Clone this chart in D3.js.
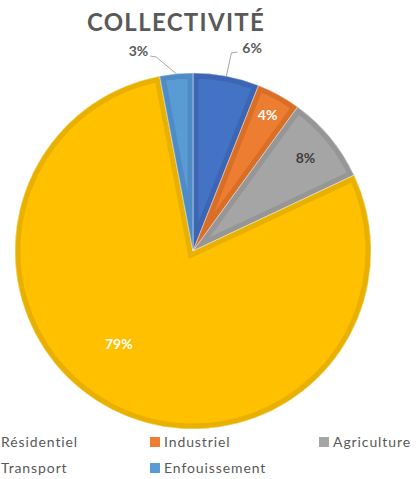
<!DOCTYPE html>
<html>
<head>
<meta charset="utf-8">
<script src="https://cdn.jsdelivr.net/npm/d3@7"></script>
<style>
  html, body { margin: 0; padding: 0; background: #fff; }
  svg { display: block; }
</style>
</head>
<body>
<svg id="chart" width="416" height="479"></svg>
<script>
// Émissions par secteur — collectivité
const categories = ["Résidentiel", "Industriel", "Agriculture", "Transport", "Enfouissement"];
const shares = [6, 4, 8, 79, 3];
const labels = ["6%", "4%", "8%", "79%", "3%"];
const title = "COLLECTIVITÉ";

const fills   = ["#4472C4", "#ED7D31", "#A5A5A5", "#FFC000", "#5B9BD5"];
const borders = ["#3C66B3", "#D96F27", "#969696", "#E8B000", "#4F8CC6"];

const W = 416, H = 479;
const cx = 193, cy = 251, R = 178;
const font = "Lato, 'Open Sans', sans-serif";
const ink = "#595959";

const svg = d3.select("#chart");

svg.append("text")
  .attr("x", 176).attr("y", 31)
  .attr("text-anchor", "middle")
  .attr("font-family", font).attr("font-weight", 700)
  .attr("font-size", 24).attr("letter-spacing", 1.3)
  .attr("fill", ink)
  .text(title);

const pie = d3.pie().sort(null).value(d => d.v);
const arcs = pie(categories.map((c, i) => ({ c, v: shares[i], i })));
const arc = d3.arc().innerRadius(0).outerRadius(R);

const g = svg.append("g").attr("transform", `translate(${cx},${cy})`);
const defs = svg.append("defs");

arcs.forEach((a, k) => {
  defs.append("clipPath").attr("id", "clip" + k)
    .append("path").attr("d", arc(a));
});

const slice = g.selectAll("g.slice").data(arcs).join("g").attr("class", "slice");
slice.append("path")
  .attr("d", arc)
  .attr("fill", d => fills[d.data.i]);
// darker inner border band
slice.append("path")
  .attr("d", arc)
  .attr("fill", "none")
  .attr("stroke", d => borders[d.data.i])
  .attr("stroke-width", 11)
  .attr("stroke-linejoin", "miter")
  .attr("clip-path", (d, k) => `url(#clip${k})`);
// thin separators between slices
slice.append("path")
  .attr("d", arc)
  .attr("fill", "none")
  .attr("stroke", "#fff")
  .attr("stroke-opacity", 0.55)
  .attr("stroke-width", 0.8);

// data labels
const inside = { 1: { r: 0.87, col: "#fff" }, 2: { r: 0.82, col: "#404040" }, 3: { r: 0.67, col: "#fff", shift: 0.2 } };
arcs.forEach((a, k) => {
  const i = a.data.i;
  const mid = (a.startAngle + a.endAngle) / 2;
  if (inside[i]) {
    const p = inside[i];
    const ang = mid + (p.shift || 0);
    g.append("text")
      .attr("x", Math.sin(ang) * R * p.r)
      .attr("y", -Math.cos(ang) * R * p.r)
      .attr("dy", "0.35em")
      .attr("text-anchor", "middle")
      .attr("font-family", font).attr("font-weight", 700)
      .attr("font-size", 14).attr("fill", p.col)
      .text(labels[i]);
  } else {
    // outside label with leader line
    const p0 = [Math.sin(mid) * R, -Math.cos(mid) * R];
    const right = Math.sin(mid) > 0;
    const elbow = right ? [p0[0] + 5, -R - 20] : [p0[0] - 20, -R - 16];
    const end = [elbow[0] + (right ? 6 : -6), elbow[1] - 1];
    g.append("path")
      .attr("d", d3.line()([p0, elbow, end]))
      .attr("fill", "none").attr("stroke", "#a6a6a6").attr("stroke-width", 1);
    g.append("text")
      .attr("x", end[0] + (right ? 5 : -2))
      .attr("y", end[1] + (right ? 1 : 0))
      .attr("text-anchor", right ? "start" : "end")
      .attr("font-family", font).attr("font-weight", 700)
      .attr("font-size", 14).attr("fill", ink)
      .text(labels[i]);
  }
});

// legend
const legend = svg.append("g");
const colX = [1, 164, 333], rowY = [447, 473];
categories.forEach((c, i) => {
  const x = colX[i % 3], y = rowY[Math.floor(i / 3)];
  legend.append("rect")
    .attr("x", x - 14).attr("y", y - 10)
    .attr("width", 10).attr("height", 10)
    .attr("fill", fills[i]);
  legend.append("text")
    .attr("x", x).attr("y", y)
    .attr("font-family", font).attr("font-size", 14)
    .attr("letter-spacing", 0.9)
    .attr("fill", ink)
    .text(c);
});
</script>
</body>
</html>
